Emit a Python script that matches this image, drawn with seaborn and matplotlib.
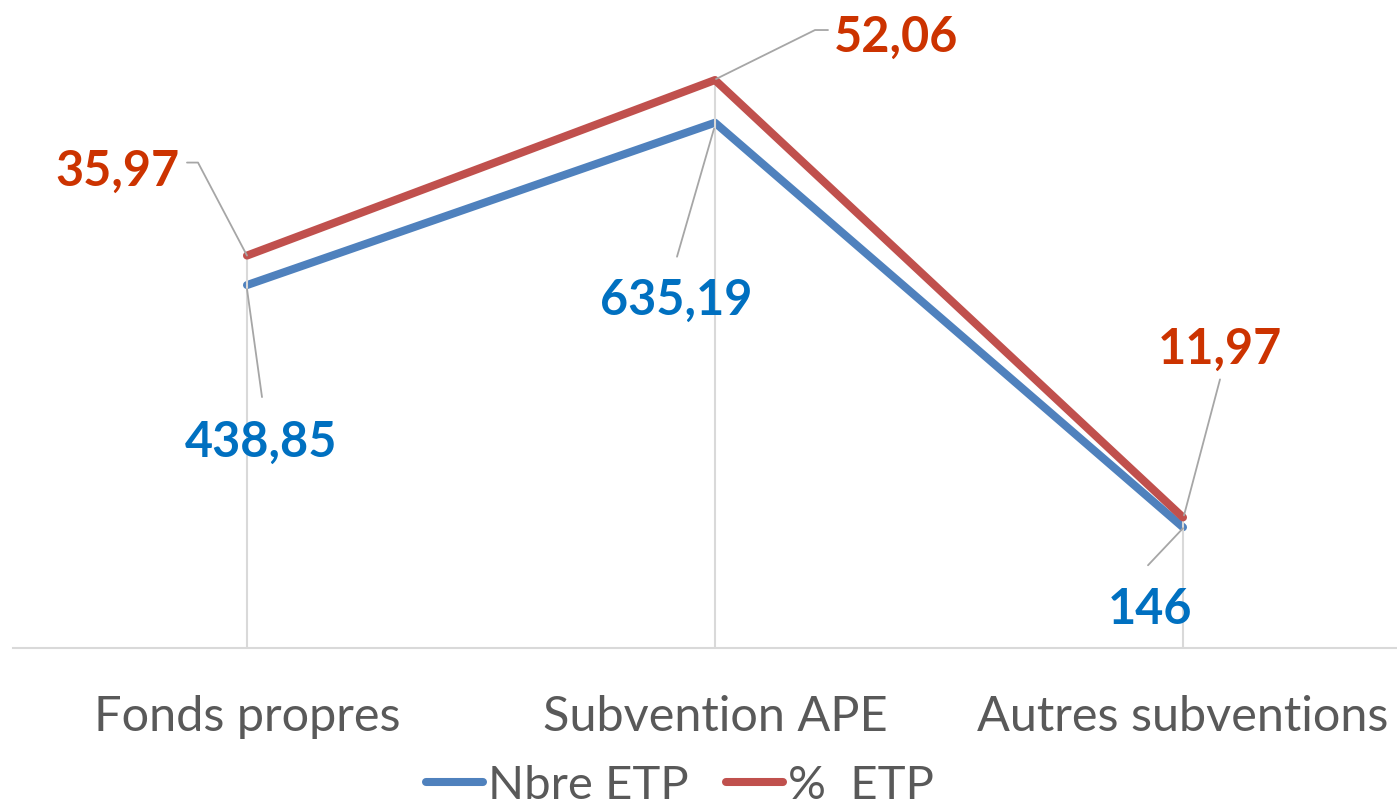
import numpy as np
import pandas as pd
import matplotlib
matplotlib.use('Agg')
import matplotlib.pyplot as plt
from matplotlib.lines import Line2D
from matplotlib.transforms import IdentityTransform
import seaborn as sns

categories = ['Fonds propres', 'Subvention APE', 'Autres subventions']
nbre_etp = [438.85, 635.19, 146]
pct_etp = [35.97, 52.06, 11.97]
nbre_labels = ['438,85', '635,19', '146']
pct_labels = ['35,97', '52,06', '11,97']

BLUE = '#4F81BD'
RED = '#C0504D'
BLUE_TXT = '#0070C0'
RED_TXT = '#CC3300'
GRID = '#D9D9D9'
LEADER = '#A6A6A6'

sns.set_style('white')
plt.rcParams['font.family'] = ['Lato', 'DejaVu Sans']

W, H = 1397, 809
fig = plt.figure(figsize=(W / 100, H / 100), dpi=100)
# plot area: bottom at y=648 px, left at 13 px
ax = fig.add_axes([13 / W, (H - 648) / H, 1384 / W, 648 / H])
ax2 = ax.twinx()

df = pd.DataFrame({'cat': categories, 'nbre': nbre_etp, 'pct': pct_etp})

ax.set_xlim(-0.5, -0.5 + 1384 / 468)
ax.set_ylim(0, 648 / 0.827)
ax2.set_ylim(0, 648 / 10.91)

# drop lines from the top series down to the axis
ax2.vlines(range(len(categories)), 0, pct_etp, color=GRID, lw=1.5, zorder=1)

sns.lineplot(data=df, x='cat', y='nbre', ax=ax, color=BLUE, linewidth=5.8,
             sort=False, solid_capstyle='round', zorder=3)
sns.lineplot(data=df, x='cat', y='pct', ax=ax2, color=RED, linewidth=5.8,
             sort=False, solid_capstyle='round', zorder=3)

for a in (ax, ax2):
    for s in a.spines.values():
        s.set_visible(False)
    a.set_ylabel('')
    a.set_xlabel('')
    a.set_yticks([])
ax.spines['bottom'].set_visible(True)
ax.spines['bottom'].set_color(GRID)
ax.spines['bottom'].set_linewidth(1.5)
ax.set_xticks(range(len(categories)))
ax.set_xticklabels(categories, fontsize=35, color='#595959')
ax.tick_params(axis='x', length=0, pad=34)

# data labels with leader lines (offsets in pixels from the point)
specs = [
    (ax2, 0, pct_etp[0], pct_labels[0], RED_TXT, (-130, 88), [(0, 0), (-49, 93), (-60, 93)]),
    (ax, 0, nbre_etp[0], nbre_labels[0], BLUE_TXT, (14, -153), [(0, -4), (15, -112)]),
    (ax, 1, nbre_etp[1], nbre_labels[1], BLUE_TXT, (-39, -174), [(-1, -6), (-38, -134)]),
    (ax2, 1, pct_etp[1], pct_labels[1], RED_TXT, (181, 47), [(1, 1), (100, 50), (113, 50)]),
    (ax2, 2, pct_etp[2], pct_labels[2], RED_TXT, (37, 172), [(1, 2), (37, 138)]),
    (ax, 2, nbre_etp[2], nbre_labels[2], BLUE_TXT, (-33, -78), [(0, -1), (-35, -38)]),
]
for a, x, y, txt, col, (dx, dy), verts in specs:
    ax2.annotate(txt, xy=(x, y), xycoords=a.transData, xytext=(dx, dy),
                 textcoords='offset pixels', ha='center', va='center_baseline',
                 fontsize=35, fontweight='bold', color=col, zorder=5)
    px, py = a.transData.transform((x, y))
    xs = [px + v[0] for v in verts]
    ys = [py + v[1] for v in verts]
    fig.add_artist(Line2D(xs, ys, transform=IdentityTransform(), color=LEADER, lw=1.3, zorder=4))

handles = [Line2D([], [], color=BLUE, lw=5.8, solid_capstyle='round'),
           Line2D([], [], color=RED, lw=5.8, solid_capstyle='round')]
fig.legend(handles, ['Nbre ETP', '%  ETP'], loc='center', bbox_to_anchor=(680 / W, (H - 786) / H),
           ncol=2, frameon=False, fontsize=34, handlelength=1.2, handletextpad=0.1,
           columnspacing=0.8, labelcolor='#595959', borderpad=0, borderaxespad=0)

fig.savefig('out.png', dpi=100)
